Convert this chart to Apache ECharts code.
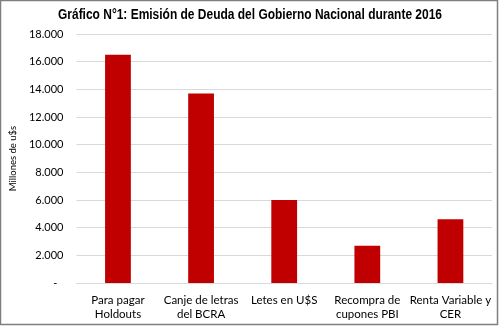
<!DOCTYPE html>
<html>
<head>
<meta charset="utf-8">
<script src="https://cdn.jsdelivr.net/npm/echarts@6/dist/echarts.min.js"></script>
<style>
html,body{margin:0;padding:0;background:#fff;}
#c{width:500px;height:326px;}
</style>
</head>
<body>
<div id="c"></div>
<script>
const titleText = 'Gráfico N°1: Emisión de Deuda del Gobierno Nacional durante 2016';
const categories = ['Para pagar\nHoldouts', 'Canje de letras\ndel BCRA', 'Letes en U$S', 'Recompra de\ncupones PBI', 'Renta Variable y\nCER'];
const values = [16500, 13700, 6000, 2700, 4600];
const yAxisName = 'Millones de u$s';
const yMin = 0, yMax = 18000, yStep = 2000;

function fmt(v){
  if (v === 0) return '{z|-}';
  return String(v).replace(/\B(?=(\d{3})+(?!\d))/g, '.');
}

const titleFont = 'bold 14px "Liberation Sans", Arial, sans-serif';
const mctx = document.createElement('canvas').getContext('2d');
mctx.font = titleFont;
const titleW = mctx.measureText(titleText).width;
const titleScale = 384 / titleW;

const chart = echarts.init(document.getElementById('c'), null, {renderer:'canvas'});
chart.setOption({
  animation:false,
  backgroundColor:'#fff',
  grid:{left:73,right:8,top:34,bottom:43,containLabel:false},
  xAxis:{
    type:'category',
    data:categories,
    axisLine:{lineStyle:{color:'#d9d9d9'}},
    axisTick:{show:false},
    axisLabel:{interval:0,margin:10,fontFamily:'Lato,sans-serif',fontSize:11.5,color:'#000',lineHeight:14}
  },
  yAxis:{
    type:'value',
    min:yMin,max:yMax,interval:yStep,
    name:yAxisName,
    nameLocation:'middle',
    nameRotate:90,
    nameGap:58,
    nameTextStyle:{fontFamily:'Lato,sans-serif',fontSize:9.5,color:'#000'},
    axisLine:{show:false},
    axisTick:{show:false},
    splitLine:{lineStyle:{color:'#d9d9d9',width:1}},
    axisLabel:{margin:13,fontFamily:'Lato,sans-serif',fontSize:11,color:'#000',formatter:fmt,
      rich:{z:{fontFamily:'Lato,sans-serif',fontSize:11,color:'#000',padding:[0,6,0,0]}}}
  },
  series:[{
    type:'bar',
    data:values,
    barWidth:'31%',
    itemStyle:{color:'#C00000'}
  }],
  graphic:[{
    type:'text',
    x:250, y:15,
    scaleX:titleScale,
    style:{text:titleText,font:titleFont,fill:'#000',textAlign:'center',textVerticalAlign:'middle'},
    silent:true,
    z:100
  },{
    type:'rect',
    shape:{x:0.5,y:0.5,width:497,height:324},
    style:{fill:null,stroke:'#7f7f7f',lineWidth:1.5},
    silent:true,
    z:100
  }]
});
</script>
</body>
</html>
